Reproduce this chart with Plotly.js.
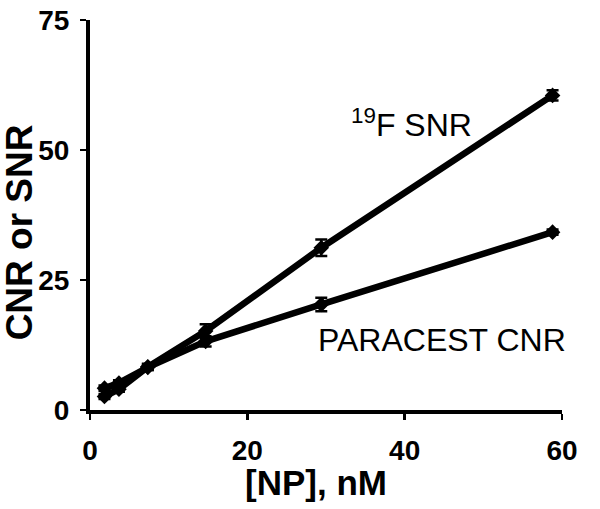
<!DOCTYPE html>
<html><head><meta charset="utf-8">
<script src="https://cdn.plot.ly/plotly-3.0.1.min.js"></script>
<style>body{margin:0;background:#fff}#c{width:600px;height:509px}</style>
</head><body><div id="c"></div>
<script>
const conc = [1.84, 3.68, 7.35, 14.7, 29.4, 58.8];
const snr = [2.6, 4.0, 8.3, 15.2, 31.2, 60.5];
const snrErr = [0.5, 0.5, 0.6, 1.3, 1.6, 1.0];
const cnr = [4.2, 5.2, 8.2, 13.2, 20.3, 34.2];
const cnrErr = [0.5, 0.5, 0.5, 1.0, 1.3, 0.5];
const xTicks = [0, 20, 40, 60];
const yTicks = [0, 25, 50, 75];

const fam = 'Liberation Sans, Arial, sans-serif';
function tr(y, e) {
  return {
    x: conc, y: y, mode: 'lines+markers', type: 'scatter',
    line: {color: '#000', width: 6.5},
    marker: {symbol: 'diamond', size: 12, color: '#000'},
    error_y: {type: 'data', array: e, visible: true, color: '#000', thickness: 2.5, width: 6},
    showlegend: false, hoverinfo: 'skip'
  };
}
const data = [tr(snr, snrErr), tr(cnr, cnrErr)];
const tickfont = {family: fam, size: 28, color: '#000', weight: 'bold'};
const layout = {
  width: 600, height: 509,
  margin: {l: 90, r: 38, t: 20, b: 99},
  paper_bgcolor: '#fff', plot_bgcolor: '#fff',
  font: {family: fam, color: '#000'},
  xaxis: {
    range: [0, 60], tickvals: xTicks, ticktext: xTicks.map(String),
    showgrid: false, zeroline: false, showline: true, linecolor: '#000', linewidth: 4,
    ticks: 'outside', ticklen: 6, tickwidth: 2.5, tickcolor: '#000',
    tickfont: tickfont, ticklabelstandoff: 6
  },
  yaxis: {
    range: [0, 75], tickvals: yTicks, ticktext: yTicks.map(String),
    showgrid: false, zeroline: false, showline: true, linecolor: '#000', linewidth: 4,
    ticks: 'outside', ticklen: 6, tickwidth: 2.5, tickcolor: '#000',
    tickfont: tickfont, ticklabelstandoff: 5
  },
  annotations: [
    {x: 0.479, y: -0.185, xref: 'paper', yref: 'paper', text: '[NP], nM', showarrow: false,
     xanchor: 'center', yanchor: 'middle', font: {family: fam, size: 35, color: '#000', weight: 'bold'}},
    {x: -0.150, y: 0.456, xref: 'paper', yref: 'paper', text: 'CNR or SNR', showarrow: false, textangle: -90,
     xanchor: 'center', yanchor: 'middle', font: {family: fam, size: 37, color: '#000', weight: 'bold'}},
    {x: 32.9, y: 55.2, xref: 'x', yref: 'y', text: '<sup>19</sup>F SNR', showarrow: false,
     xanchor: 'left', yanchor: 'middle', font: {family: fam, size: 32, color: '#000'}},
    {x: 28.7, y: 13.5, xref: 'x', yref: 'y', text: 'PARACEST CNR', showarrow: false,
     xanchor: 'left', yanchor: 'middle', font: {family: fam, size: 32, color: '#000'}}
  ]
};
Plotly.newPlot('c', data, layout, {displayModeBar: false, staticPlot: true});
</script></body></html>
